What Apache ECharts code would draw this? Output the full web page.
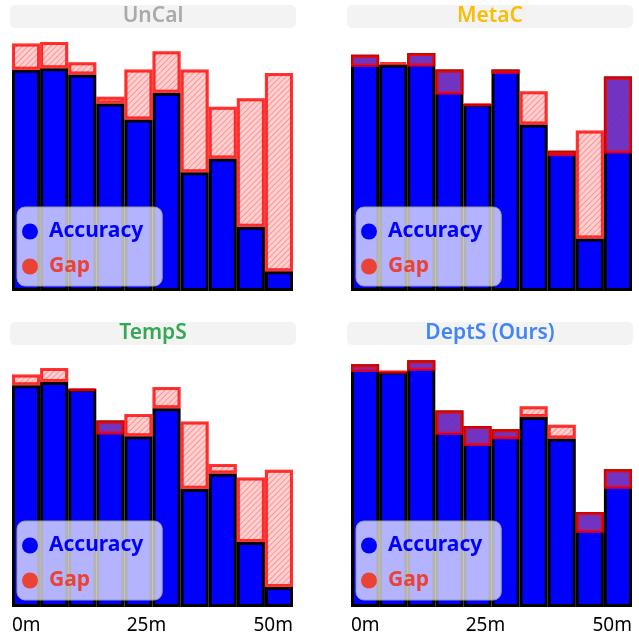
<!DOCTYPE html>
<html>
<head>
<meta charset="utf-8">
<style>
  html, body { margin: 0; padding: 0; background: #fff; }
  #chart { width: 639px; height: 639px; }
</style>
<script src="https://cdn.jsdelivr.net/npm/echarts@6/dist/echarts.min.js"></script>
</head>
<body>
<div id="chart"></div>
<script>
// depth bins (5 m each)
var bins = ['0-5', '5-10', '10-15', '15-20', '20-25', '25-30', '30-35', '35-40', '40-45', '45-50'];

var uncalAcc  = [0.864, 0.870, 0.846, 0.732, 0.670, 0.774, 0.464, 0.518, 0.251, 0.077];
var uncalConf = [0.967, 0.973, 0.894, 0.759, 0.865, 0.937, 0.865, 0.720, 0.753, 0.852];

var metacAcc  = [0.923, 0.885, 0.930, 0.865, 0.730, 0.865, 0.650, 0.548, 0.205, 0.838];
var metacConf = [0.876, 0.893, 0.877, 0.768, 0.725, 0.848, 0.780, 0.527, 0.627, 0.537];

var tempsAcc  = [0.866, 0.879, 0.853, 0.729, 0.667, 0.776, 0.462, 0.521, 0.254, 0.078];
var tempsConf = [0.908, 0.934, 0.845, 0.674, 0.754, 0.859, 0.725, 0.559, 0.506, 0.536];

var deptsAcc  = [0.948, 0.920, 0.964, 0.768, 0.707, 0.694, 0.742, 0.658, 0.371, 0.538];
var deptsConf = [0.918, 0.916, 0.923, 0.673, 0.629, 0.655, 0.784, 0.712, 0.290, 0.462];

var panels = [
  { name: 'UnCal',        color: '#aaaaaa', acc: uncalAcc, conf: uncalConf },
  { name: 'MetaC',        color: '#fbbc05', acc: metacAcc, conf: metacConf },
  { name: 'TempS',        color: '#34a853', acc: tempsAcc, conf: tempsConf },
  { name: 'DeptS (Ours)', color: '#4285f4', acc: deptsAcc, conf: deptsConf }
];

var FONT = 'Noto Sans';
// 2x2 panel layout
var boxes = [
  { left: 12,  top: 35,  titleX: 10,  titleY: 5 },
  { left: 351, top: 35,  titleX: 347, titleY: 5 },
  { left: 12,  top: 351, titleX: 10,  titleY: 322 },
  { left: 351, top: 351, titleX: 347, titleY: 322 }
];
var W = 281, H = 256;

var grids = [], xAxes = [], yAxes = [], series = [], titles = [], legends = [], covers = [];

panels.forEach(function (p, i) {
  var b = boxes[i];
  var bottomRow = i >= 2;
  grids.push({ left: b.left, top: b.top, width: W, height: H });

  titles.push({
    text: '{t|' + p.name + '}',
    left: b.titleX, top: b.titleY, padding: 0,
    textStyle: {
      rich: {
        t: {
          width: 286, height: 23, lineHeight: 23, align: 'center',
          backgroundColor: '#f3f3f3', borderRadius: 5,
          color: p.color, fontSize: 21, fontWeight: 600, fontFamily: FONT
        }
      }
    }
  });

  xAxes.push({ type: 'category', gridIndex: i, data: bins, show: false });
  xAxes.push({
    type: 'value', gridIndex: i, min: 0, max: 50, interval: 25,
    show: bottomRow, position: 'bottom',
    axisLine: { show: false }, axisTick: { show: false }, splitLine: { show: false },
    axisLabel: {
      margin: 9, fontSize: 19, color: '#000', fontFamily: FONT,
      alignMinLabel: 'left', alignMaxLabel: 'right',
      formatter: function (v) { return v === 25 ? '{s|25m}' : v + 'm'; },
      rich: { s: { fontSize: 19, color: '#000', fontFamily: FONT, padding: [0, 12, 0, 0] } }
    }
  });
  yAxes.push({ type: 'value', gridIndex: i, min: 0, max: 1, show: false });

  var base = p.acc.map(function (a, k) { return Math.min(a, p.conf[k]); });
  var gap = p.acc.map(function (a, k) { return Math.abs(p.conf[k] - a); });

  series.push({
    name: 'Accuracy', type: 'bar', xAxisIndex: i * 2, yAxisIndex: i,
    data: p.acc, barCategoryGap: '0%', barGap: '-100%',
    itemStyle: { color: '#0000ff', borderColor: '#000', borderWidth: 3 },
    silent: true
  });
  series.push({
    name: 'base' + i, type: 'bar', xAxisIndex: i * 2, yAxisIndex: i,
    stack: 'gap' + i, data: base, barCategoryGap: '0%', barGap: '-100%',
    itemStyle: { color: 'rgba(0,0,0,0)' }, silent: true
  });
  series.push({
    name: 'Gap', type: 'bar', xAxisIndex: i * 2, yAxisIndex: i,
    stack: 'gap' + i, data: gap, barCategoryGap: '0%', barGap: '-100%',
    itemStyle: {
      color: 'rgba(255,140,140,0.4)', borderColor: 'rgba(255,0,0,0.55)', borderWidth: 3,
      decal: {
        symbol: 'rect', symbolSize: 1, dashArrayX: [1, 0], dashArrayY: [1, 3],
        rotation: -Math.PI / 4, color: 'rgba(255,0,0,0.3)'
      }
    },
    silent: true
  });

  legends.push({
    left: b.left + 5, top: bottomRow ? 521 : 207,
    orient: 'vertical', icon: 'circle', itemWidth: 28, itemHeight: 16,
    itemGap: 14, padding: [14, 19, 9, 5],
    backgroundColor: 'rgba(255,255,255,0.7)', borderColor: '#999', borderWidth: 1, borderRadius: 8,
    textStyle: { fontSize: 21, fontWeight: 'bold', fontFamily: FONT },
    data: [
      { name: 'Accuracy', textStyle: { color: '#0000ff' }, itemStyle: { color: '#0000ff', borderWidth: 0 } },
      { name: 'Gap', textStyle: { color: '#ea4335' }, itemStyle: { color: '#ea4335', borderWidth: 0, decal: 'none' } }
    ],
    selectedMode: false
  });

  // hide bar outlines that spill past the plot's left, right and bottom edges
  covers.push({ type: 'rect', z: 100, shape: { x: b.left - 3, y: b.top, width: 3, height: H + 3 }, style: { fill: '#fff' } });
  covers.push({ type: 'rect', z: 100, shape: { x: b.left + W, y: b.top, width: 3, height: H + 3 }, style: { fill: '#fff' } });
  covers.push({ type: 'rect', z: 100, shape: { x: b.left - 3, y: b.top + H, width: W + 6, height: 3 }, style: { fill: '#fff' } });
});

var chart = echarts.init(document.getElementById('chart'));
chart.setOption({
  animation: false,
  title: titles,
  grid: grids,
  xAxis: xAxes,
  yAxis: yAxes,
  legend: legends,
  graphic: covers,
  series: series
});
</script>
</body>
</html>
